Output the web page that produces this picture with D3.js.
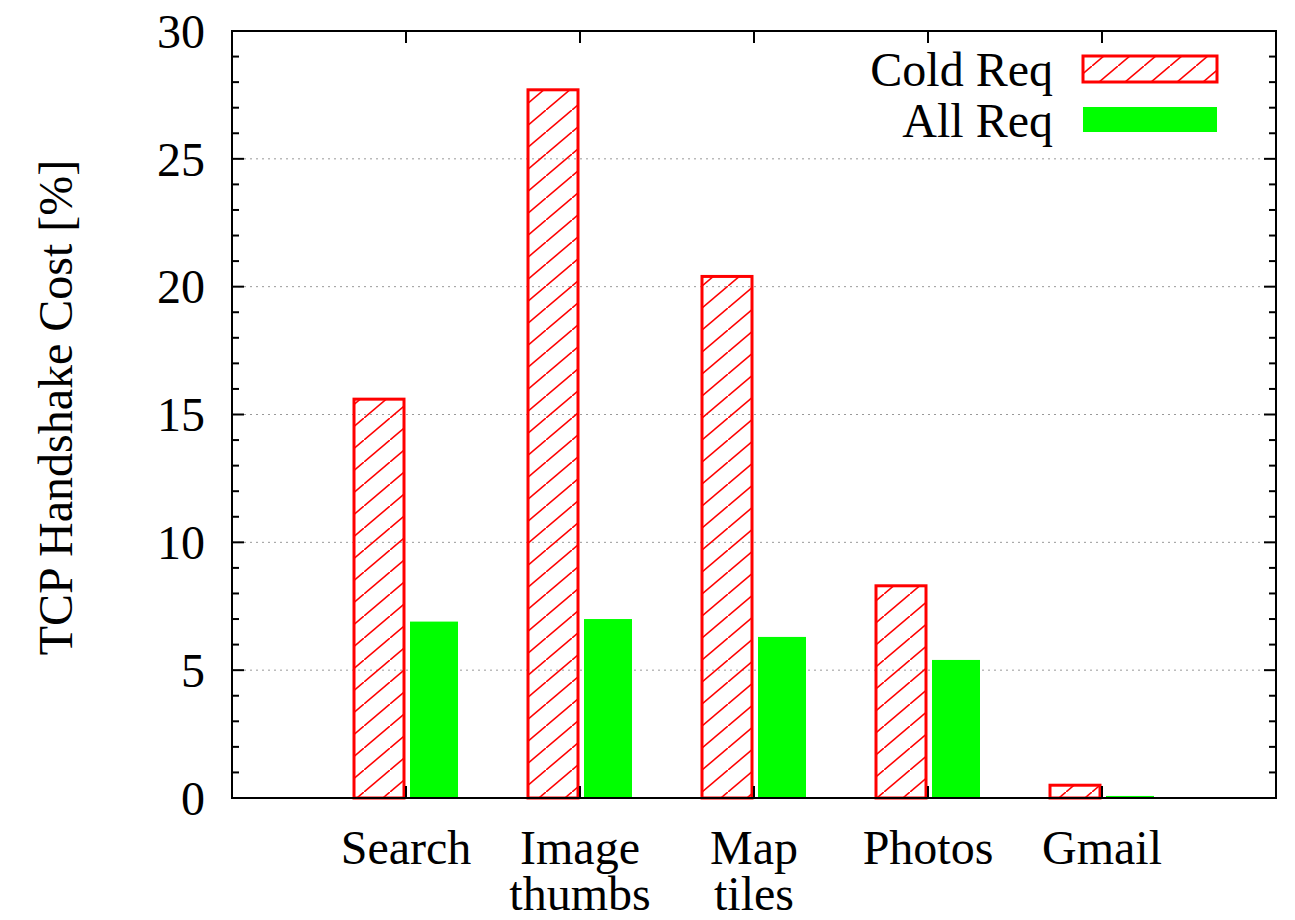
<!DOCTYPE html>
<html><head><meta charset="utf-8">
<script src="https://cdn.jsdelivr.net/npm/d3@7"></script>
<style>body{margin:0;background:#fff}svg{display:block}text{font-family:"Liberation Serif","Times New Roman",serif;fill:#000}</style>
</head><body><svg id="c" width="1295" height="920"></svg>
<script>
const categories = [["Search"], ["Image", "thumbs"], ["Map", "tiles"], ["Photos"], ["Gmail"]];
const coldReq = [15.6, 27.7, 20.4, 8.3, 0.5];
const allReq = [6.9, 7.0, 6.3, 5.4, 0.08];
const seriesNames = ["Cold Req", "All Req"];
const yTicks = [0, 5, 10, 15, 20, 25, 30];
const yLabel = "TCP Handshake Cost [%]";

const svg = d3.select("#c");
const L = 232, R = 1276, T = 31, B = 798;
const x = d3.scaleLinear().domain([-1, 5]).range([L, R]);
const y = d3.scaleLinear().domain([0, 30]).range([B, T]);
const FS = 48;

const defs = svg.append("defs");
const pat = defs.append("pattern").attr("id", "hatch").attr("patternUnits", "userSpaceOnUse")
  .attr("width", 26).attr("height", 22);
pat.append("line").attr("x1", -2).attr("y1", 23.7).attr("x2", 28).attr("y2", -1.7)
  .attr("stroke", "#ff0000").attr("stroke-width", 1.6);

// grid
svg.append("g").selectAll("line").data(yTicks.filter(d => d > 0 && d < 30)).join("line")
  .attr("x1", L).attr("x2", R).attr("y1", d => y(d)).attr("y2", d => y(d))
  .attr("stroke", "#999").attr("stroke-width", 1).attr("stroke-dasharray", "2,4");

// bars
const bw = 50;
svg.append("g").selectAll("rect").data(coldReq).join("rect")
  .attr("x", (d, i) => x(i) - 52).attr("y", d => y(d)).attr("width", bw).attr("height", d => B - y(d))
  .attr("fill", "url(#hatch)").attr("stroke", "#ff0000").attr("stroke-width", 3);
svg.append("g").selectAll("rect").data(allReq).join("rect")
  .attr("x", (d, i) => x(i) + 4).attr("y", d => y(d)).attr("width", 48).attr("height", d => Math.max(B - y(d), 1.5))
  .attr("fill", "#00ff00");

// axes
const minor = d3.range(0, 31, 1);
const ax = svg.append("g").attr("stroke", "#000").attr("stroke-width", 2);
ax.selectAll(".ml").data(minor).join("line")
  .attr("x1", L).attr("x2", d => L + (d % 5 === 0 ? 12 : 7)).attr("y1", d => y(d)).attr("y2", d => y(d));
ax.selectAll(".mr").data(minor).join("line")
  .attr("x1", R).attr("x2", d => R - (d % 5 === 0 ? 12 : 7)).attr("y1", d => y(d)).attr("y2", d => y(d));
ax.selectAll(".xb").data(d3.range(categories.length)).join("line")
  .attr("x1", i => x(i)).attr("x2", i => x(i)).attr("y1", B).attr("y2", B - 12);
ax.selectAll(".xt").data(d3.range(categories.length)).join("line")
  .attr("x1", i => x(i)).attr("x2", i => x(i)).attr("y1", T).attr("y2", T + 12);
svg.append("rect").attr("x", L).attr("y", T).attr("width", R - L).attr("height", B - T)
  .attr("fill", "none").attr("stroke", "#000").attr("stroke-width", 2);

// y tick labels
svg.append("g").selectAll("text").data(yTicks).join("text")
  .attr("x", 205).attr("y", d => y(d)).attr("dy", "0.35em").attr("text-anchor", "end")
  .attr("font-size", FS).text(d => d);

// x labels (one text element per line)
const xlData = [];
categories.forEach((lines, i) => lines.forEach((t, j) => xlData.push({ i, j, t })));
svg.append("g").selectAll("text").data(xlData).join("text")
  .attr("text-anchor", "middle").attr("font-size", FS)
  .attr("x", d => x(d.i)).attr("y", d => 864 + d.j * 46).text(d => d.t);

// y label
svg.append("text").attr("transform", `translate(72,${(T + B) / 2 - 7}) rotate(-90)`)
  .attr("text-anchor", "middle").attr("font-size", FS).text(yLabel);

// legend
const lg = svg.append("g");
lg.append("text").attr("x", 1053).attr("y", 86).attr("text-anchor", "end").attr("font-size", FS).text(seriesNames[0]);
lg.append("rect").attr("x", 1083).attr("y", 56).attr("width", 134).attr("height", 26)
  .attr("fill", "url(#hatch)").attr("stroke", "#ff0000").attr("stroke-width", 3);
lg.append("text").attr("x", 1053).attr("y", 137).attr("text-anchor", "end").attr("font-size", FS).text(seriesNames[1]);
lg.append("rect").attr("x", 1083).attr("y", 107).attr("width", 134).attr("height", 25).attr("fill", "#00ff00");
</script></body></html>
